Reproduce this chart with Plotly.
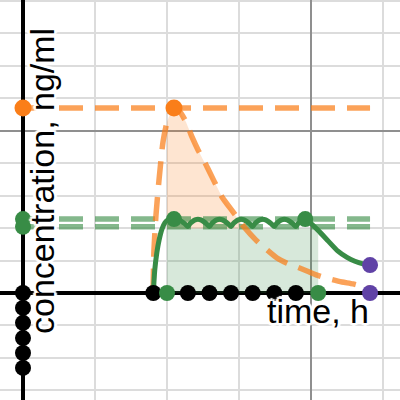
import plotly.graph_objects as go

# ---- data (x: time units, y: concentration units) ----
orange_t = [1.806, 1.819, 1.847, 1.889, 1.944, 2.0, 2.056, 2.097, 2.181, 2.264, 2.347, 2.431,
            2.528, 2.667, 2.764, 2.917, 3.083, 3.236, 3.389, 3.528, 3.667, 3.806, 3.944,
            4.083, 4.264, 4.431, 4.583, 4.750, 4.819]
orange_c = [0.0, 1.33, 2.40, 3.48, 4.65, 5.27, 5.61, 5.70, 5.58, 5.27, 4.81, 4.41,
            4.01, 3.39, 2.96, 2.50, 2.00, 1.63, 1.33, 1.08, 0.92, 0.80, 0.68,
            0.55, 0.43, 0.34, 0.28, 0.18, 0.15]

green_t = [1.81, 1.83, 1.86, 1.89, 1.93, 1.97, 2.01, 2.05, 2.10,
           2.15, 2.20, 2.25, 2.29,
           2.32, 2.35, 2.39, 2.43, 2.47, 2.51, 2.55, 2.59,
           2.62, 2.65, 2.69, 2.73, 2.77, 2.81, 2.85, 2.89,
           2.92, 2.95, 2.99, 3.03, 3.07, 3.11, 3.15, 3.19,
           3.22, 3.25, 3.29, 3.33, 3.37, 3.41, 3.45, 3.49,
           3.52, 3.55, 3.59, 3.63, 3.67, 3.71, 3.75, 3.79,
           3.82, 3.85, 3.89, 3.92,
           3.99, 4.10, 4.24, 4.37, 4.50, 4.61, 4.72, 4.82]
green_c = [0.0, 0.71, 1.26, 1.63, 1.97, 2.16, 2.25, 2.29, 2.29,
           2.27, 2.21, 2.13, 2.05,
           2.14, 2.20, 2.255, 2.275, 2.255, 2.20, 2.13, 2.05,
           2.14, 2.20, 2.255, 2.275, 2.255, 2.20, 2.13, 2.05,
           2.14, 2.20, 2.255, 2.275, 2.255, 2.20, 2.13, 2.05,
           2.14, 2.20, 2.255, 2.275, 2.255, 2.20, 2.13, 2.05,
           2.14, 2.20, 2.255, 2.275, 2.255, 2.20, 2.13, 2.05,
           2.14, 2.20, 2.255, 2.28,
           2.16, 1.93, 1.60, 1.30, 1.10, 0.98, 0.90, 0.86]

c_max_single = 5.70      # single-dose peak
c_ss_max = 2.28          # steady-state max
c_ss_min = 2.04          # steady-state min
c_avg = 1.99             # box height
box_t0, box_t1 = 2.0, 4.1
t_peak = 2.097
t_last_peak = 3.92
t_end = 4.82
c_end = 0.86

dose_t = [1.81, 2.29, 2.59, 2.89, 3.19, 3.49, 3.79]
yaxis_dots_c = [0.0, -0.46, -0.92, -1.39, -1.85, -2.31]

ORANGE = "#fa7e19"
GREEN = "#388c46"
PURPLE = "#6042a6"

fig = go.Figure()

# green box (average concentration x interval)
fig.add_trace(go.Scatter(x=[box_t0, box_t1, box_t1, box_t0, box_t0],
                         y=[0, 0, c_avg, c_avg, 0], fill="toself",
                         fillcolor="rgba(56,140,70,0.2)", line=dict(width=0),
                         mode="lines", hoverinfo="skip"))

# peach fill above the box under the orange curve
px_, py_ = [], []
for t, c in zip(orange_t, orange_c):
    if t >= box_t0 and c >= c_avg:
        px_.append(t); py_.append(c)
px_ += [px_[-1], box_t0, box_t0]
py_ += [c_avg, c_avg, py_[0]]
fig.add_trace(go.Scatter(x=px_, y=py_, fill="toself",
                         fillcolor="rgba(250,126,25,0.2)", line=dict(width=0),
                         mode="lines", hoverinfo="skip"))

dash = "24px,12px"
# horizontal dashed reference lines
fig.add_trace(go.Scatter(x=[0, t_end], y=[c_max_single, c_max_single], mode="lines",
                         line=dict(color="rgba(250,126,25,0.72)", width=5.5, dash=dash)))
for c in (c_ss_max, c_ss_min):
    fig.add_trace(go.Scatter(x=[0, t_end], y=[c, c], mode="lines",
                             line=dict(color="rgba(56,140,70,0.62)", width=5.5, dash=dash)))

# single dose curve
fig.add_trace(go.Scatter(x=orange_t, y=orange_c, mode="lines",
                         line=dict(color="rgba(250,126,25,0.72)", width=5.5, dash=dash,
                                   shape="spline", smoothing=0.6)))
# multiple dose curve
fig.add_trace(go.Scatter(x=green_t, y=green_c, mode="lines",
                         line=dict(color=GREEN, width=5, shape="spline", smoothing=0.5)))

# black dots
fig.add_trace(go.Scatter(x=dose_t, y=[0] * len(dose_t), mode="markers",
                         marker=dict(color="black", size=16)))
fig.add_trace(go.Scatter(x=[0] * len(yaxis_dots_c), y=yaxis_dots_c, mode="markers",
                         marker=dict(color="black", size=16)))
# green dots
fig.add_trace(go.Scatter(x=[0, 0, t_peak, t_last_peak, box_t0, box_t1],
                         y=[c_ss_max, c_ss_min, c_ss_max, c_ss_max, 0, 0], mode="markers",
                         marker=dict(color=GREEN, size=16)))
# orange dots
fig.add_trace(go.Scatter(x=[0, t_peak], y=[c_max_single, c_max_single], mode="markers",
                         marker=dict(color=ORANGE, size=17)))
# purple dots
fig.add_trace(go.Scatter(x=[t_end, t_end], y=[c_end, 0], mode="markers",
                         marker=dict(color=PURPLE, size=16)))

halo = ("white 3px 0px 1px, white -3px 0px 1px, white 0px 3px 1px, white 0px -3px 1px, "
        "white 2px 2px 1px, white -2px -2px 1px, white 2px -2px 1px, white -2px 2px 1px")
font = dict(family="Liberation Sans, Arial, sans-serif", size=34, color="black", shadow=halo)

fig.add_annotation(x=4.097, y=-0.555, text="time, h", showarrow=False,
                   xanchor="center", yanchor="middle", font=font)
fig.add_annotation(x=0.257, y=3.437, text="concentration, ng/ml", showarrow=False,
                   textangle=-90, xanchor="center", yanchor="middle", font=font)

fig.update_layout(
    width=400, height=400, margin=dict(l=0, r=0, t=0, b=0),
    paper_bgcolor="white", plot_bgcolor="white", showlegend=False,
    xaxis=dict(range=[-23 / 72, 377 / 72], tick0=0, dtick=4, showticklabels=False,
               ticks="", showgrid=True, gridcolor="#8f8f8f", gridwidth=2,
               zeroline=True, zerolinecolor="black", zerolinewidth=3.5,
               minor=dict(dtick=1, showgrid=True, gridcolor="#dcdcdc", gridwidth=1.5),
               fixedrange=True, showline=False),
    yaxis=dict(range=[-107 / 32.44, 293 / 32.44], tick0=0, dtick=5, showticklabels=False,
               ticks="", showgrid=True, gridcolor="#8f8f8f", gridwidth=2,
               zeroline=True, zerolinecolor="black", zerolinewidth=3.5,
               minor=dict(dtick=1, showgrid=True, gridcolor="#dcdcdc", gridwidth=1.5),
               fixedrange=True, showline=False),
)

fig.write_html("out.html", config={"displayModeBar": False},
               post_script="document.body.style.margin='0';document.body.style.overflow='hidden';")
